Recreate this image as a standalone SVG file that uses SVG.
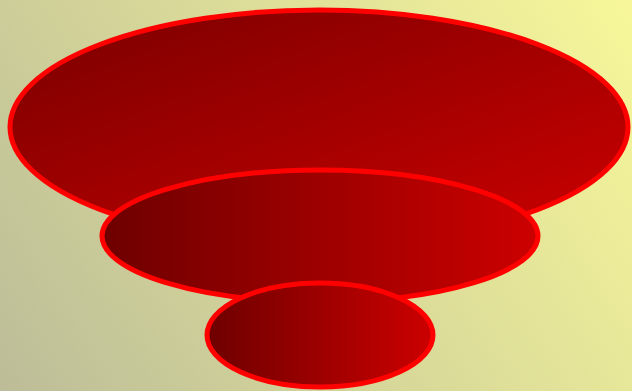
<svg xmlns="http://www.w3.org/2000/svg" width="632" height="391" viewBox="0 0 632 391">
<defs>
<linearGradient id="bg" gradientUnits="userSpaceOnUse" x1="0" y1="391" x2="632" y2="0">
<stop offset="0" stop-color="#bcbd98"/>
<stop offset="1" stop-color="#f7f79a"/>
</linearGradient>
<linearGradient id="g1" x1="0" y1="0" x2="1" y2="1">
<stop offset="0" stop-color="#7a0000"/>
<stop offset="1" stop-color="#cc0000"/>
</linearGradient>
<linearGradient id="g2" x1="0" y1="0" x2="1" y2="0">
<stop offset="0" stop-color="#6e0000"/>
<stop offset="1" stop-color="#cc0000"/>
</linearGradient>
<style>
.e{stroke:#ff0000;stroke-width:5}
</style>
</defs>
<rect width="632" height="391" fill="url(#bg)"/>
<g id="top"><ellipse class="e" cx="319" cy="127" rx="309" ry="117" fill="url(#g1)"/></g>
<g id="middle"><ellipse class="e" cx="320" cy="236" rx="218" ry="66" fill="url(#g2)"/></g>
<g id="bottom"><ellipse class="e" cx="320" cy="335" rx="113" ry="52" fill="url(#g2)"/></g>
<g id="connectors"/>
</svg>
